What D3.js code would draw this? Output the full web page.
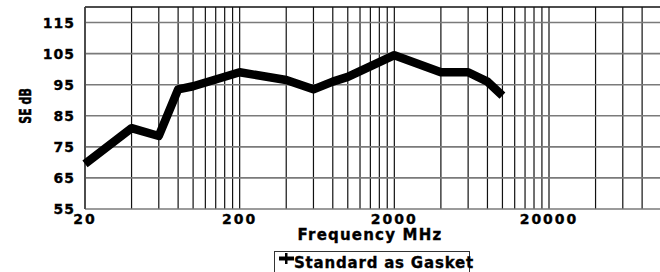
<!DOCTYPE html>
<html>
<head>
<meta charset="utf-8">
<title>SE dB</title>
<script src="https://d3js.org/d3.v7.min.js"></script>
<style>
  body { margin: 0; background: #fff; }
  text { font-family: "DejaVu Sans", sans-serif; font-weight: bold; fill: #000; stroke: #000; stroke-width: 0.35px; }
</style>
</head>
<body>
<div id="chart"></div>
<script>
// data
var freqs = [20, 40, 60, 80, 100, 200, 400, 600, 800, 1000, 2000, 4000, 6000, 8000, 10000];
var seDb  = [69.5, 81, 78.5, 93.5, 94.5, 99, 96.5, 93.5, 96, 97.5, 104.5, 99, 99, 96, 91.5];
var yTicks = [55, 65, 75, 85, 95, 105, 115];
var xTickLabels = [20, 200, 2000, 20000];
var seriesName = "Standard as Gasket";

var width = 660, height = 272;
var plotLeft = 85, plotTop = 7, plotBottom = 209;

var svg = d3.select("#chart").append("svg")
    .attr("width", width)
    .attr("height", height);

var x = d3.scaleLog().domain([20, 20000]).range([plotLeft, 549]);
var y = d3.scaleLinear().domain([55, 120]).range([plotBottom, plotTop]);

// vertical grid: 1..9 times each decade start, up to 80000
var vlines = [];
[20, 200, 2000, 20000].forEach(function(d) {
    for (var k = 1; k <= 9; k++) {
        var v = d * k;
        if (v <= 80000 && vlines.indexOf(v) < 0) vlines.push(v);
    }
});

svg.append("g").selectAll("line")
    .data(vlines)
    .enter().append("line")
    .attr("x1", function(d) { return x(d); })
    .attr("x2", function(d) { return x(d); })
    .attr("y1", plotTop)
    .attr("y2", plotBottom)
    .attr("stroke", "#111")
    .attr("stroke-width", 1.2);

// horizontal grid
svg.append("g").selectAll("line")
    .data(yTicks)
    .enter().append("line")
    .attr("x1", plotLeft)
    .attr("x2", width)
    .attr("y1", function(d) { return y(d); })
    .attr("y2", function(d) { return y(d); })
    .attr("stroke", "#7a7a7a")
    .attr("stroke-width", 1.6);

// top border
svg.append("line")
    .attr("x1", plotLeft).attr("x2", width)
    .attr("y1", plotTop).attr("y2", plotTop)
    .attr("stroke", "#111").attr("stroke-width", 1.4);

// left border
svg.append("line")
    .attr("x1", plotLeft).attr("x2", plotLeft)
    .attr("y1", plotTop).attr("y2", plotBottom)
    .attr("stroke", "#444").attr("stroke-width", 1.6);

// y tick labels
svg.append("g").selectAll("text")
    .data(yTicks)
    .enter().append("text")
    .attr("x", 75)
    .attr("y", function(d) { return y(d); })
    .attr("dy", "0.36em")
    .attr("text-anchor", "end")
    .style("font-size", "14px")
    .style("letter-spacing", "1px")
    .text(function(d) { return d; });

// x tick labels
svg.append("g").selectAll("text")
    .data(xTickLabels)
    .enter().append("text")
    .attr("x", function(d) { return x(d); })
    .attr("y", 224)
    .attr("text-anchor", "middle")
    .style("font-size", "14px")
    .style("letter-spacing", "2px")
    .text(function(d) { return d; });

// axis titles
svg.append("text")
    .attr("x", 370)
    .attr("y", 240)
    .attr("text-anchor", "middle")
    .style("font-size", "15px")
    .style("letter-spacing", "1.2px")
    .text("Frequency MHz");

svg.append("text")
    .attr("transform", "translate(31,106) rotate(-90) scale(1,1.5)")
    .attr("text-anchor", "middle")
    .style("font-size", "11px")
    .text("SE dB");

// series line
var pts = freqs.map(function(f, i) { return [f, seDb[i]]; });
svg.append("path")
    .datum(pts)
    .attr("fill", "none")
    .attr("stroke", "#000")
    .attr("stroke-width", 8.5)
    .attr("stroke-linejoin", "round")
    .attr("d", d3.line()
        .x(function(d) { return x(d[0]); })
        .y(function(d) { return y(d[1]); }));

// legend
var lg = svg.append("g");
lg.append("rect")
    .attr("x", 274.5).attr("y", 251.5)
    .attr("width", 195).attr("height", 30)
    .attr("fill", "none")
    .attr("stroke", "#333").attr("stroke-width", 1);
lg.append("line")
    .attr("x1", 279).attr("x2", 294)
    .attr("y1", 258.5).attr("y2", 258.5)
    .attr("stroke", "#000").attr("stroke-width", 4);
lg.append("rect")
    .attr("x", 285).attr("y", 253)
    .attr("width", 2.5).attr("height", 11)
    .attr("fill", "#000");
lg.append("text")
    .attr("x", 294)
    .attr("y", 268)
    .style("font-size", "15px")
    .style("letter-spacing", "0.8px")
    .text(seriesName);
</script>
</body>
</html>
